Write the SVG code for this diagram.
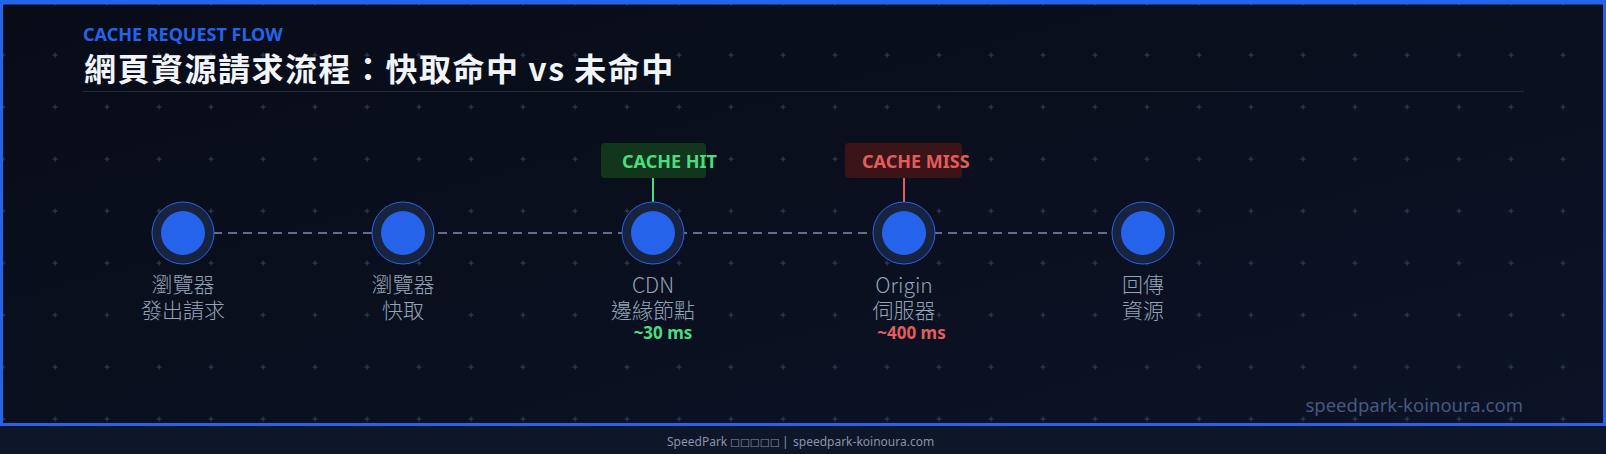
<svg xmlns="http://www.w3.org/2000/svg" width="1606" height="454" viewBox="0 0 1606 454">
  <defs>
    <linearGradient id="bg" x1="0" y1="0" x2="1" y2="1">
      <stop offset="0" stop-color="#080c17"/>
      <stop offset="1" stop-color="#0c1326"/>
    </linearGradient>
    <pattern id="grid" patternUnits="userSpaceOnUse" x="0" y="0" width="52" height="52">
      <path d="M0.5 3H5.5M3 0.5V5.5" stroke="#34405c" stroke-width="1"/>
    </pattern>
    <style>
      .eyebrow { font-family: "Noto Sans", "Open Sans", sans-serif; font-weight: 700; font-size: 18px; fill: #2563eb; }
      .title { font-family: "Noto Sans CJK TC", "Noto Sans", sans-serif; font-weight: 700; font-size: 32px; fill: #f1f5f9; letter-spacing: 1.5px; }
      .lbl { font-family: "Noto Sans CJK TC", "Noto Sans", sans-serif; font-weight: 300; font-size: 21px; fill: #94a3b8; text-anchor: middle; }
      .tag { font-family: "Noto Sans", "Open Sans", sans-serif; font-weight: 700; font-size: 18px; }
      .lat { font-family: "Noto Sans", "Open Sans", sans-serif; font-weight: 700; font-size: 17px; text-anchor: middle; }
      .ring { fill: #18233f; stroke: #2563eb; stroke-width: 1; }
      .core { fill: #2563eb; }
      .link { stroke: #5d6e8f; stroke-width: 2; stroke-dasharray: 9 6; fill: none; }
      .footer { font-family: "Noto Sans", "Open Sans", sans-serif; font-size: 12px; fill: #8a93a8; }
    </style>
  </defs>

  <!-- background -->
  <rect x="0" y="0" width="1606" height="454" fill="#0e1629"/>
  <rect x="0" y="0" width="1606" height="426" fill="url(#bg)"/>
  <rect x="0" y="0" width="1606" height="426" fill="url(#grid)"/>
  <rect x="1.5" y="1.5" width="1603" height="423" fill="none" stroke="#2563eb" stroke-width="3"/>
  <rect x="0" y="0" width="1606" height="4.5" fill="#2563eb"/>

  <!-- header -->
  <text class="eyebrow" x="83" y="41">CACHE REQUEST FLOW</text>
  <text class="title" x="84" y="81">網頁資源請求流程：快取命中 vs 未命中</text>
  <line x1="83" y1="91.5" x2="1524" y2="91.5" stroke="#1f2a3e" stroke-width="1"/>

  <!-- connectors -->
  <g id="connectors">
    <line class="link" x1="183" y1="233" x2="1143" y2="233"/>
    <line x1="653" y1="178" x2="653" y2="202" stroke="#4ade80" stroke-width="2"/>
    <line x1="904" y1="178" x2="904" y2="202" stroke="#e35d5d" stroke-width="2"/>
  </g>

  <!-- nodes -->
  <g id="node-browser-request">
    <circle class="ring" cx="183" cy="233" r="31"/>
    <circle class="core" cx="183" cy="233" r="22"/>
    <text class="lbl" x="183" y="292">瀏覽器</text>
    <text class="lbl" x="183" y="318">發出請求</text>
  </g>

  <g id="node-browser-cache">
    <circle class="ring" cx="403" cy="233" r="31"/>
    <circle class="core" cx="403" cy="233" r="22"/>
    <text class="lbl" x="403" y="292">瀏覽器</text>
    <text class="lbl" x="403" y="318">快取</text>
  </g>

  <g id="node-cdn">
    <rect x="601" y="143" width="105" height="35" rx="4" fill="#12361b"/>
    <text class="tag" x="622" y="168" fill="#4ade80">CACHE HIT</text>
    <circle class="ring" cx="653" cy="233" r="31"/>
    <circle class="core" cx="653" cy="233" r="22"/>
    <text class="lbl" x="653" y="293">CDN</text>
    <text class="lbl" x="653" y="318">邊緣節點</text>
    <text class="lat" x="663" y="339" fill="#4ade80">~30 ms</text>
  </g>

  <g id="node-origin">
    <rect x="845" y="143" width="117" height="35" rx="4" fill="#3a1417"/>
    <text class="tag" x="862" y="168" fill="#e35d5d">CACHE MISS</text>
    <circle class="ring" cx="904" cy="233" r="31"/>
    <circle class="core" cx="904" cy="233" r="22"/>
    <text class="lbl" x="904" y="293">Origin</text>
    <text class="lbl" x="904" y="318">伺服器</text>
    <text class="lat" x="911.5" y="339" fill="#e35d5d">~400 ms</text>
  </g>

  <g id="node-return">
    <circle class="ring" cx="1143" cy="233" r="31"/>
    <circle class="core" cx="1143" cy="233" r="22"/>
    <text class="lbl" x="1143" y="292">回傳</text>
    <text class="lbl" x="1143" y="318">資源</text>
  </g>

  <!-- watermark -->
  <text x="1523" y="412" text-anchor="end" font-family="Noto Sans, Open Sans, sans-serif" font-size="18.5" fill="#46597f">speedpark-koinoura.com</text>

  <!-- footer -->
  <text class="footer" x="667" y="446">SpeedPark <tspan x="730" font-family="DejaVu Sans, sans-serif" font-size="10.5">□□□□□</tspan><tspan x="782">|</tspan><tspan x="793">speedpark-koinoura.com</tspan></text>
</svg>
